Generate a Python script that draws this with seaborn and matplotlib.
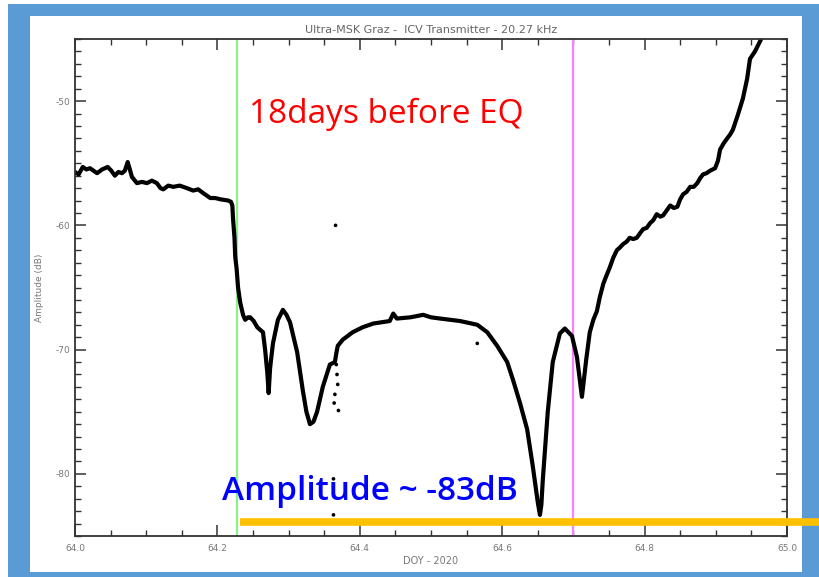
import numpy as np
import pandas as pd
import matplotlib
matplotlib.use("Agg")
import matplotlib.pyplot as plt
from matplotlib.patches import Rectangle
from matplotlib.ticker import MultipleLocator, FormatStrFormatter
import seaborn as sns

# ---- data ----
doy = [64.000, 64.005, 64.011, 64.016, 64.021, 64.026, 64.031, 64.038, 64.046, 64.051,
       64.056, 64.061, 64.066, 64.070, 64.074, 64.077, 64.080, 64.087, 64.094, 64.101,
       64.108, 64.115, 64.120, 64.124, 64.131, 64.138, 64.147, 64.157, 64.166, 64.173,
       64.180, 64.190, 64.197, 64.204, 64.215, 64.219, 64.221, 64.222, 64.224, 64.225,
       64.227, 64.229, 64.232, 64.236, 64.239, 64.243, 64.246, 64.251, 64.256, 64.264,
       64.267, 64.270, 64.272, 64.274, 64.278, 64.285, 64.292, 64.297, 64.302, 64.312,
       64.320, 64.325, 64.330, 64.335, 64.340, 64.348, 64.358, 64.365, 64.367, 64.369,
       64.376, 64.390, 64.404, 64.419, 64.442, 64.447, 64.452, 64.471, 64.489, 64.500,
       64.513, 64.541, 64.565, 64.579, 64.593, 64.607, 64.615, 64.625, 64.635, 64.643,
       64.650, 64.653, 64.655, 64.657, 64.664, 64.671, 64.681, 64.688, 64.698, 64.705,
       64.712, 64.718, 64.723, 64.728, 64.733, 64.737, 64.742, 64.746, 64.751, 64.756,
       64.761, 64.765, 64.770, 64.775, 64.779, 64.784, 64.789, 64.794, 64.798, 64.803,
       64.808, 64.812, 64.817, 64.822, 64.826, 64.831, 64.836, 64.841, 64.846, 64.850,
       64.854, 64.859, 64.864, 64.869, 64.874, 64.878, 64.882, 64.887, 64.892, 64.899,
       64.903, 64.906, 64.911, 64.916, 64.920, 64.924, 64.931, 64.938, 64.944, 64.948,
       64.955, 64.962, 64.967]
amp = [-55.7, -55.9, -55.3, -55.5, -55.4, -55.6, -55.8, -55.5, -55.3, -55.6,
       -56.0, -55.7, -55.8, -55.6, -54.9, -55.5, -56.1, -56.6, -56.5, -56.6,
       -56.4, -56.6, -57.0, -57.1, -56.8, -56.9, -56.8, -57.0, -57.2, -57.1,
       -57.4, -57.8, -57.8, -57.9, -58.0, -58.1, -58.4, -59.5, -61.0, -62.5,
       -63.5, -65.0, -66.2, -67.2, -67.6, -67.4, -67.4, -67.7, -68.2, -68.6,
       -70.0, -71.8, -73.5, -71.5, -69.5, -67.6, -66.8, -67.2, -67.8, -70.2,
       -73.3, -75.0, -76.0, -75.8, -75.0, -73.0, -71.2, -71.0, -70.3, -69.7,
       -69.2, -68.6, -68.2, -67.9, -67.7, -67.1, -67.5, -67.4, -67.2, -67.4,
       -67.5, -67.7, -68.0, -68.6, -69.7, -71.0, -72.4, -74.3, -76.4, -79.4,
       -82.3, -83.3, -82.5, -80.5, -75.0, -71.0, -68.7, -68.3, -68.9, -70.6,
       -73.8, -70.8, -68.6, -67.6, -66.9, -65.8, -64.7, -64.1, -63.4, -62.6,
       -62.0, -61.8, -61.5, -61.3, -61.0, -61.1, -61.0, -60.6, -60.3, -60.2,
       -59.8, -59.6, -59.1, -59.3, -59.2, -58.8, -58.4, -58.6, -58.5, -57.9,
       -57.5, -57.3, -56.9, -56.9, -56.6, -56.2, -55.9, -55.8, -55.6, -55.4,
       -54.8, -53.9, -53.4, -53.0, -52.7, -52.3, -51.1, -49.8, -48.2, -46.6,
       -46.0, -45.2, -44.6]

out_doy = [64.366, 64.565, 64.363, 64.363, 64.367, 64.368, 64.369, 64.365, 64.364, 64.370]
out_amp = [-60.0, -69.5, -80.4, -83.3, -71.2, -72.0, -72.8, -73.6, -74.3, -74.9]

green_doy = 64.2275
magenta_doy = 64.70
level_db = -83.87

title = "Ultra-MSK Graz -  ICV Transmitter - 20.27 kHz"
xlabel = "DOY - 2020"
ylabel = "Amplitude (dB)"
note_red = "18days before EQ"
note_blue = "Amplitude ~ -83dB"

df = pd.DataFrame({"doy": doy, "amp": amp})
df_out = pd.DataFrame({"doy": out_doy, "amp": out_amp})

# ---- figure ----
sns.set_style("ticks")
plt.rcParams["font.family"] = ["DejaVu Sans"]

fig = plt.figure(figsize=(8.19, 5.77), dpi=100)
fig.patch.set_facecolor("white")
fig.add_artist(Rectangle((8 / 819, 0), 1 - 8 / 819, 1 - 4 / 577,
                         transform=fig.transFigure, facecolor="#5B9BD5",
                         edgecolor="none", zorder=-2))
fig.add_artist(Rectangle((30 / 819, 5 / 577), (802 - 30) / 819, (572 - 16) / 577,
                         transform=fig.transFigure, facecolor="white",
                         edgecolor="none", zorder=-1))

ax = fig.add_axes([75 / 819, 1 - 536 / 577, (787 - 75) / 819, (536 - 39) / 577])

sns.lineplot(data=df, x="doy", y="amp", ax=ax, color="black", linewidth=3.0,
             sort=False, estimator=None)
sns.scatterplot(data=df_out, x="doy", y="amp", ax=ax, color="black", s=7,
                edgecolor="none")

ax.axvline(green_doy, color="#8CF08C", linewidth=1.6, zorder=1)
ax.axvline(magenta_doy, color="#FF80FF", linewidth=1.6, zorder=1)

ax.set_xlim(64.0, 65.0)
ax.set_ylim(-85, -45)

ax.xaxis.set_major_locator(MultipleLocator(0.2))
ax.xaxis.set_minor_locator(MultipleLocator(0.05))
ax.yaxis.set_major_locator(MultipleLocator(10))
ax.yaxis.set_minor_locator(MultipleLocator(1))
ax.xaxis.set_major_formatter(FormatStrFormatter("%.1f"))
ax.yaxis.set_major_formatter(FormatStrFormatter("%d"))

ax.tick_params(which="both", direction="in", top=True, right=True,
               colors="#333333", labelcolor="#777777", labelsize=6.5)
ax.tick_params(which="major", length=8, width=1.1)
ax.tick_params(which="minor", length=4.5, width=1.0)
ax.tick_params(axis="x", pad=6)
for sp in ax.spines.values():
    sp.set_visible(True)
    sp.set_color("#333333")
    sp.set_linewidth(1.3)

ax.set_title(title, fontsize=8, color="#666666", pad=4)
ax.set_xlabel(xlabel, fontsize=7, color="#777777", labelpad=2)
ax.set_ylabel(ylabel, fontsize=6.5, color="#777777", labelpad=8)

ax.text(64.2450, -51.76, note_red, color="#FF0000", fontsize=24,
        family=["Open Sans", "DejaVu Sans"], va="baseline", ha="left")
ax.text(64.2060, -82.1, note_blue, color="#0000FF", fontsize=24,
        family=["Open Sans", "DejaVu Sans"], va="baseline", ha="left",
        fontweight="semibold")

ax.plot([64.2317, 65.045], [level_db, level_db], color="#FFC000", linewidth=5.5,
        clip_on=False, zorder=5, solid_capstyle="butt")

fig.savefig("out.png", dpi=100)
